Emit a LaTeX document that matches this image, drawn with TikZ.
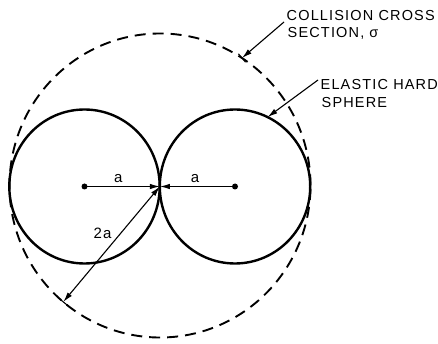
\documentclass[tikz,border=0pt]{standalone}
\usepackage{fontspec}
\newfontfamily\lab[LetterSpace=8]{Liberation Sans}
\usetikzlibrary{arrows.meta,calc}
\begin{document}
\begin{tikzpicture}[x=1pt,y=-1pt,
  ball/.style={line width=2.4pt},
  cross/.style={line width=1.9pt, dash pattern=on 11pt off 7pt},
  lead/.style={line width=1.1pt},
  tip/.style={-{Latex[length=10pt,width=5.5pt]}},
  lbl/.style={font=\lab\fontsize{14.5}{17}\selectfont, inner sep=0pt, anchor=base west},
  sym/.style={font=\lab\fontsize{15}{17}\selectfont, inner sep=0pt, anchor=base},
  dot/.style={circle, fill, inner sep=0pt, minimum size=6pt}]
\useasboundingbox (0,0) rectangle (438,344);
% centres and key points
\coordinate (L) at (84.5,186.5);
\coordinate (R) at (235,186.5);
\coordinate (C) at (159.8,186.5);
\coordinate (D) at (160,185.5);
\coordinate (P1) at (242.0,58.0);
\coordinate (P2) at (63.3,301.9);
\coordinate (E) at (267.6,117.1);
% spheres and cross section
\draw[ball] (L) ellipse [x radius=75.2pt, y radius=77pt];
\draw[ball] (R) ellipse [x radius=75.2pt, y radius=77pt];
\draw[cross] (D) ellipse [x radius=150.5pt, y radius=152pt];
% centre dots
\node[dot] (Ldot) at (L) {};
\node[dot] (Rdot) at (R) {};
% radius arrows
\draw[lead,tip] (Ldot.center) -- (C);
\draw[lead,tip] (Rdot.center) -- (C);
\node[sym] (la) at (118.3,183) {a};
\node[sym] (ra) at (195,183) {a};
% 2a arrow
\draw[lead,{Latex[length=10pt,width=5.5pt]}-{Latex[length=10pt,width=5.5pt]}] (C) -- (P2);
\draw[lead] ($(P2)!5.5pt!90:(C)$) -- ($(P2)!5.5pt!-90:(C)$);
\node[sym] (twoa) at (102.5,238.3) {2a};
% labels
\node[lbl] (col1) at (286.5,20.5) {COLLISION CROSS};
\node[lbl] (col2) at (287.5,37.5) {SECTION, σ};
\node[lbl] (ela1) at (320.5,90) {ELASTIC HARD};
\node[lbl] (ela2) at (321.5,108) {SPHERE};
\coordinate (cs) at (284,22);
\coordinate (es) at (318,80);
\draw[lead,tip] (cs) -- (P1);
\draw[lead] ($(P1)!5.5pt!90:(cs)$) -- ($(P1)!5.5pt!-90:(cs)$);
\draw[lead,tip] (es) -- (E);
\end{tikzpicture}
\end{document}
